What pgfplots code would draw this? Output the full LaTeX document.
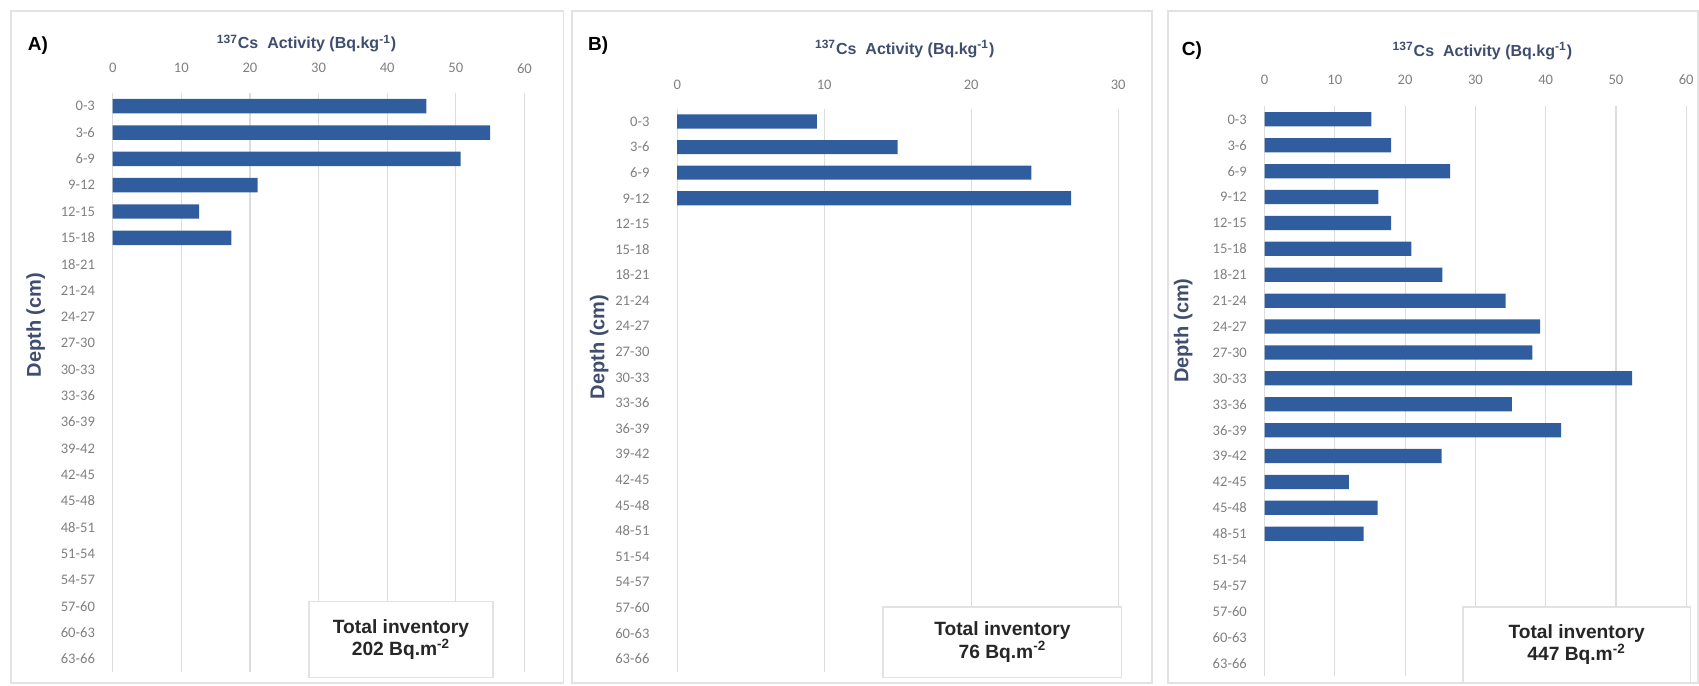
\documentclass[border=0pt]{standalone}
\usepackage{pgfplots}
\pgfplotsset{compat=1.18}
\usepackage{fontspec}
\setmainfont{Liberation Sans}
\newfontfamily\calfont{Carlito}
\definecolor{barblue}{HTML}{2F5D9E}
\definecolor{titlecol}{HTML}{3F4D6E}
\definecolor{tickgray}{HTML}{808080}
\definecolor{gridgray}{HTML}{DCDCDC}
\definecolor{framegray}{HTML}{E2E2E2}
\pgfplotsset{
 depthaxis/.style={
  scale only axis,
  xbar, bar width=0.55,
  y dir=reverse, ymin=-0.5, ymax=21.5,
  ytick={0,...,21},
  yticklabels={0-3,3-6,6-9,9-12,12-15,15-18,18-21,21-24,24-27,27-30,30-33,33-36,36-39,39-42,42-45,45-48,48-51,51-54,54-57,57-60,60-63,63-66},
  xticklabel pos=upper,
  axis line style={draw=none},
  major tick length=0pt,
  xmajorgrids, grid style={gridgray, line width=0.6pt},
  tick label style={font=\calfont\fontsize{7.3}{8}\selectfont, text=tickgray},
  /pgf/number format/assume math mode=true,
  yticklabel style={anchor=east, inner sep=0pt, xshift=-8.7pt},
  xticklabel style={anchor=center, inner sep=0pt},
  anchor=south west,
  clip=false,
 },
}
\tikzset{
 titletext/.style={font=\bfseries\fontsize{8}{9}\selectfont, text=titlecol},
 invtext/.style={font=\bfseries\fontsize{9.6}{11.2}\selectfont, text=black!85, align=center},
 depthtext/.style={font=\bfseries\fontsize{10}{11}\selectfont, text=titlecol, rotate=90},
}
\newcommand{\cstitle}{\textsuperscript{137}Cs\ \ Activity (Bq.kg\textsuperscript{-1})}
\begin{document}
\begin{tikzpicture}
\useasboundingbox (0,0) rectangle (849.5pt,343pt);
% frames
\draw[framegray, line width=0.8pt] (5.4pt,1.6pt) rectangle (281.7pt,337.6pt);
\draw[framegray, line width=0.8pt] (286.1pt,1.6pt) rectangle (575.9pt,337.6pt);
\draw[framegray, line width=0.8pt] (584.1pt,1.6pt) rectangle (848.9pt,337.6pt);

% Panel A
\begin{axis}[depthaxis, at={(56.35pt,6.97pt)}, width=205.9pt, height=289.5pt,
  xmin=0, xmax=60, xtick={0,10,...,60}, xticklabel style={yshift=12.4pt}]
\addplot[fill=barblue, draw=none] coordinates {(45.7,0) (55.0,1) (50.7,2) (21.1,3) (12.6,4) (17.3,5)};
\end{axis}
% Panel B
\begin{axis}[depthaxis, at={(338.6pt,7.15pt)}, width=220.5pt, height=281.5pt,
  xmin=0, xmax=30, xtick={0,10,20,30}, xticklabel style={yshift=12pt},
  yticklabel style={xshift=-5pt}]
\addplot[fill=barblue, draw=none] coordinates {(9.5,0) (15.0,1) (24.1,2) (26.8,3)};
\end{axis}
% Panel C
\begin{axis}[depthaxis, at={(632.3pt,4.9pt)}, width=210.8pt, height=284.9pt,
  xmin=0, xmax=60, xtick={0,10,...,60}, xticklabel style={yshift=13.5pt}]
\addplot[fill=barblue, draw=none] coordinates {(15.2,0) (18.0,1) (26.4,2) (16.2,3) (18.0,4) (20.9,5) (25.3,6) (34.3,7) (39.2,8) (38.1,9) (52.3,10) (35.2,11) (42.2,12) (25.2,13) (12.0,14) (16.1,15) (14.1,16)};
\end{axis}

% titles and labels
\node[titletext] at (153.3pt,321.3pt) {\cstitle};
\node[titletext] at (452.4pt,318.6pt) {\cstitle};
\node[titletext] at (741.2pt,317.5pt) {\cstitle};
\node[font=\bfseries\fontsize{9.5}{10}\selectfont] at (19.0pt,320.2pt) {A)};
\node[font=\bfseries\fontsize{9.5}{10}\selectfont] at (299.1pt,320.2pt) {B)};
\node[font=\bfseries\fontsize{9.5}{10}\selectfont] at (596.0pt,317.5pt) {C)};
\node[depthtext] at (17.9pt,180.4pt) {Depth (cm)};
\node[depthtext] at (299.6pt,169.6pt) {Depth (cm)};
\node[depthtext] at (591.6pt,177.7pt) {Depth (cm)};

% inventory boxes
\draw[framegray, line width=0.8pt, fill=white] (154.4pt,4.3pt) rectangle (246.5pt,42.3pt);
\node[invtext] at (200.5pt,23.3pt) {Total inventory\\202 Bq.m\textsuperscript{-2}};
\draw[framegray, line width=0.8pt, fill=white] (441.6pt,4.3pt) rectangle (560.8pt,39.6pt);
\node[invtext] at (501.2pt,22pt) {Total inventory\\76 Bq.m\textsuperscript{-2}};
\draw[framegray, line width=0.8pt, fill=white] (731.4pt,1.6pt) rectangle (845.2pt,39.6pt);
\node[invtext] at (788.3pt,20.6pt) {Total inventory\\447 Bq.m\textsuperscript{-2}};
\end{tikzpicture}
\end{document}
